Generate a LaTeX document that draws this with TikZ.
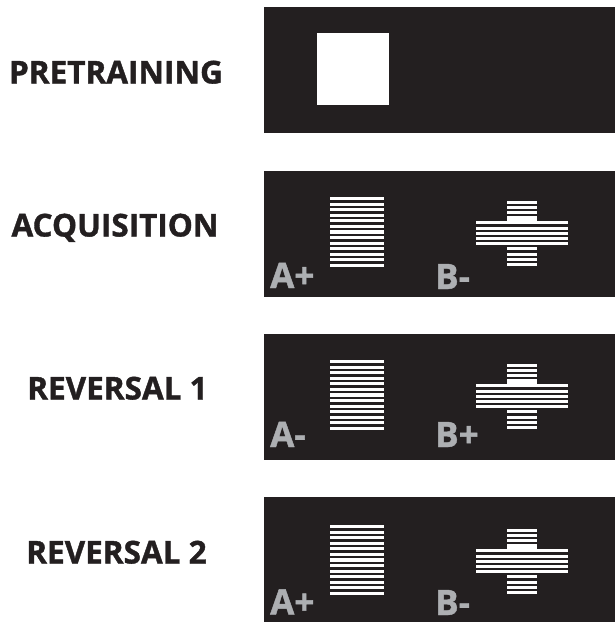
\documentclass[tikz,border=0pt]{standalone}
\usepackage{fontspec}
\setmainfont{Open Sans}[BoldFeatures={FakeBold=1.2}]
\definecolor{panelc}{HTML}{231F20}
\definecolor{tagc}{HTML}{ADAFB2}

% horizontal grating in a square window; #1 = top edge
\newcommand\gratingsquare[1]{%
  \foreach \i in {0,...,12}
    \fill[white] (330,{#1+\i*5.57}) rectangle (384,{#1+\i*5.57+3.2});
}
% horizontal grating in a cross-shaped window; #1 = top edge of the square beside it
\newcommand\gratingcross[1]{%
  \foreach \i in {0,...,3}
    \fill[white] (507,{#1+3.6+\i*5.2}) rectangle (537,{#1+3.6+\i*5.2+2.9});
  \fill[white] (507,{#1+3.6+3*5.2}) rectangle (537,{#1+3.6+4*5.2+2.9});
  \foreach \i in {4,...,8}
    \fill[white] (476,{#1+3.6+\i*5.2}) rectangle (568,{#1+3.6+\i*5.2+2.9});
  \foreach \i in {9,...,12}
    \fill[white] (507,{#1+3.6+\i*5.2}) rectangle (537,{#1+3.6+\i*5.2+2.9});
}

\begin{document}
\begin{tikzpicture}[x=1pt,y=-1pt,
  stage/.style={font=\fontsize{31.5}{32}\selectfont\bfseries, text=panelc,
                inner sep=0pt, anchor=base},
  tag/.style={font=\fontsize{35}{35}\selectfont\bfseries, text=tagc,
              inner sep=0pt, text depth=0pt, anchor=base west},
  panel/.style={fill=panelc}]
\useasboundingbox (0,0) rectangle (615,622);
\fill[white] (0,0) rectangle (615,622);

% stage names
\node[stage] (pre) at (116,83.5) {PRETRAINING};
\node[stage] (acq) at (115,236.5) {ACQUISITION};
\node[stage] (rev1) at (117.5,399.5) {REVERSAL 1};
\node[stage] (rev2) at (116.5,563.5) {REVERSAL 2};

% dark display panels
\fill[panel] (263.5,7.3) rectangle (615,133.3);
\fill[panel] (263.5,170.7) rectangle (615,296.5);
\fill[panel] (263.5,333.7) rectangle (615,459.5);
\fill[panel] (263.5,497) rectangle (615,622);

% pretraining: plain white square
\fill[white] (317,33) rectangle (389,105);

% acquisition
\gratingsquare{197}
\gratingcross{197}
\node[tag] (a1) at (270,288) {A+};
\node[tag] (b1) at (435,289) {B-};

% reversal 1
\gratingsquare{360}
\gratingcross{360}
\node[tag] (a2) at (270,447) {A-};
\node[tag] (b2) at (435,447) {B+};

% reversal 2
\gratingsquare{525}
\gratingcross{525}
\node[tag] (a3) at (270,614.5) {A+};
\node[tag] (b3) at (435,615) {B-};
\end{tikzpicture}
\end{document}
